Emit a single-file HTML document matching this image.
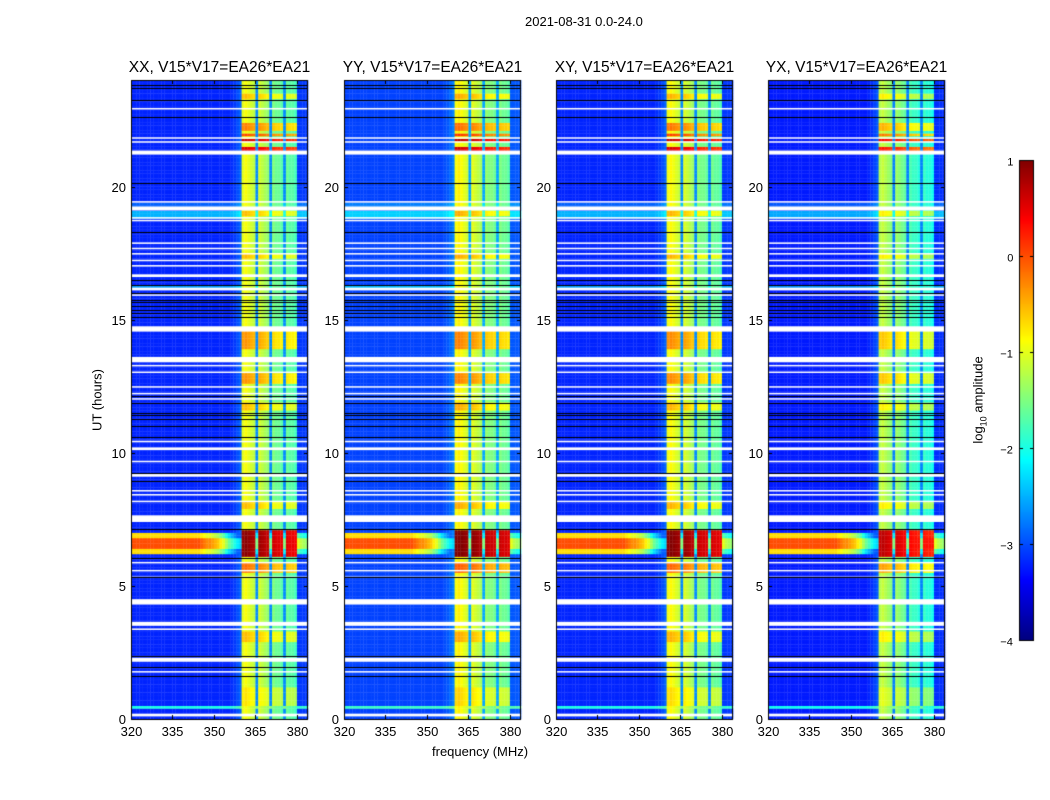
<!DOCTYPE html>
<html><head><meta charset="utf-8">
<style>
body{margin:0;background:#fff;}
#wrap{position:relative;width:1050px;height:800px;overflow:hidden;font-family:"Liberation Sans",sans-serif;color:#000;}
.t{position:absolute;white-space:nowrap;font-size:13px;line-height:13px;}
.pt{position:absolute;white-space:nowrap;font-size:15.5px;line-height:16px;transform:translateX(-50%);}
canvas{position:absolute;left:0;top:0;}
</style></head>
<body>
<div id="wrap">
<canvas id="cv" width="1050" height="800"></canvas>
<div class="t" style="left:525px;top:15px;">2021-08-31 0.0-24.0</div>
<div id="labels"></div>
<div class="t" style="left:97px;top:400px;transform:translate(-50%,-50%) rotate(-90deg);">UT (hours)</div>
<div class="t" style="left:432px;top:745px;">frequency (MHz)</div>
<div class="t" style="left:981px;top:400px;transform:translate(-50%,-50%) rotate(-90deg);">log<sub style="font-size:9px">10</sub> amplitude</div>
</div>
<script>
// ---- data ----
const panelTitles = ["XX, V15*V17=EA26*EA21","YY, V15*V17=EA26*EA21","XY, V15*V17=EA26*EA21","YX, V15*V17=EA26*EA21"];
const xTicks = [320,335,350,365,380];
const yTicks = [0,5,10,15,20];
const cbTicks = [1,0,-1,-2,-3,-4];
// per-MHz channel spectrum 320..383 (log10 amplitude)
const chanLevel = [
-3.2,-3.2,-3.2,-3.2,-3.2,-3.2,-3.2,-3.2,-3.2,-3.2,
-3.2,-3.2,-3.2,-3.2,-3.2,-3.2,-3.2,-3.2,-3.2,-3.2,
-3.2,-3.2,-3.2,-3.2,-3.2,-3.2,-3.2,-3.2,-3.2,-3.2,
-3.2,-3.2,-3.2,-3.2,-3.2,-3.2,-3.15,-3.1,-3.0,-2.9,
-1.0,-0.9,-1.0,-1.1,-1.2,-2.7,-1.1,-1.2,-1.3,-1.4,
-2.7,-1.5,-1.6,-1.6,-1.7,-2.7,-1.6,-1.7,-1.7,-1.8,
-3.1,-3.1,-3.1,-3.1];
// broadband RFI profile (320..383), used during broadband events
const bbProfile = [
0.0,0.0,0.0,0.0,0.0,0.0,0.0,0.0,0.0,0.0,
0.0,0.0,0.0,0.0,0.0,0.0,0.0,0.0,0.0,0.0,
0.0,0.0,0.0,0.0,0.0,-0.1,-0.2,-0.3,-0.3,-0.4,
-0.5,-0.6,-0.8,-1.0,-1.3,-1.6,-1.8,-2.0,-2.2,-2.3,
0.0,0.0,0.0,0.0,0.0,-1.5,0.0,0.0,0.0,0.0,
-1.5,0.0,0.0,0.0,0.0,-1.5,0.0,0.0,0.0,0.0,
-1.0,-1.2,-1.3,-1.4];
const bandBursts = [[0.5,1.2,-0.8],[2.9,3.3,-0.6],[5.5,5.9,-0.2],[6.1,7.1,0.9],[7.9,8.2,-0.6],[11.6,11.9,-0.6],[12.6,13.0,-0.4],[13.9,14.6,-0.4],[17.3,17.5,-0.6],[18.9,19.1,-0.6],[21.3,21.55,0.5],[21.7,21.8,0.6],[21.9,22.0,0.0],[22.1,22.4,-0.3],[23.3,23.5,-0.6]];
const broadband = [[6.2,7.05,-0.7],[6.4,6.85,0.0]];
const bgBoost = [[18.85,19.1,0.7],[19.25,19.4,0.3],[16.2,16.35,0.6],[0.45,0.55,1.2]];
const panelBandOffset = [0,0.1,0.05,-0.25];
const panelBgOffset = [0,0.15,0,-0.05];
const gaps = [[0.1,0.2],[1.75,1.8],[2.15,2.3],[3.35,3.4],[3.5,3.65],[4.3,4.5],[5.3,5.35],[5.55,5.6],[5.85,5.9],[7.4,7.65],[8.15,8.2],[8.4,8.45],[8.55,8.6],[9.1,9.2],[9.65,9.7],[10.1,10.2],[10.4,10.45],[12.0,12.05],[12.2,12.25],[12.45,12.5],[13.0,13.05],[13.25,13.3],[13.4,13.6],[14.55,14.75],[15.9,15.95],[16.1,16.2],[16.6,16.7],[17.0,17.05],[17.2,17.25],[17.45,17.5],[17.65,17.7],[17.85,17.9],[18.7,18.75],[18.8,18.85],[19.1,19.25],[19.4,19.45],[21.2,21.35],[21.65,21.7],[21.8,21.85],[22.9,22.95]];
const flags = [1.6,1.95,2.35,5.35,6.05,7.15,8.95,9.25,10.6,11.0,11.25,11.4,11.5,11.85,12.15,15.1,15.25,15.35,15.5,15.65,15.75,16.0,16.3,16.5,18.3,20.15,22.6,23.25,23.7,23.8];

// ---- layout ----
const lefts=[131,344,556,768], W=177, TOP=80, BOT=719;
const F0=320,F1=384,H0=0,H1=24,VMIN=-4,VMAX=1;
const xs=(i,f)=>lefts[i]+(f-F0)/(F1-F0)*W;
const ys=h=>BOT-(h-H0)/(H1-H0)*(BOT-TOP);
function cl(v){return Math.max(0,Math.min(1,v));}
function jet(v){const x=cl((v-VMIN)/(VMAX-VMIN));
 return `rgb(${Math.round(255*cl(1.5-Math.abs(4*x-3)))},${Math.round(255*cl(1.5-Math.abs(4*x-2)))},${Math.round(255*cl(1.5-Math.abs(4*x-1)))})`;}
function inside(list,h){return list.filter(e=>h>=e[0]&&h<e[1]);}

const ctx=document.getElementById('cv').getContext('2d');
const labels=document.getElementById('labels');
function label(txt,x,y,name,style){const d=document.createElement('div');d.className='t';d.textContent=txt;
 d.style.left=x+'px';d.style.top=y+'px';if(style)d.style.transform=style;
 
 
 labels.appendChild(d);}

const dh=0.1;
for(let p=0;p<4;p++){
 for(let r=0;r<240;r++){
  const h=r*dh+dh/2;
  const bb=inside(bgBoost,h).reduce((a,e)=>a+e[2],0);
  const bursts=inside(bandBursts,h);
  const bbs=inside(broadband,h);
  for(let c=0;c<chanLevel.length;c++){
   const base=chanLevel[c];
   const isBand=base>-2;
   let v=isBand?base+panelBandOffset[p]:base+panelBgOffset[p]+bb;
   if(isBand) for(const e of bursts) v=Math.max(v,e[2]+(base+1.0)*0.6+panelBandOffset[p]);
   for(const e of bbs) v=Math.max(v,bbProfile[c]+e[2]+(isBand?0.3:0));
   ctx.fillStyle=jet(v);
   const x0=xs(p,F0+c),x1=xs(p,F0+c+1),y0=ys(r*dh+dh),y1=ys(r*dh);
   ctx.fillRect(x0,y0,x1-x0+0.3,y1-y0+0.3);
  }
 }
 ctx.fillStyle='#fff';
 for(const g of gaps){const y0=ys(g[1]),y1=ys(g[0]);ctx.fillRect(lefts[p],y0,W,Math.max(1.5,y1-y0));}
 ctx.fillStyle='#000';
 for(const f of flags){ctx.fillRect(lefts[p],Math.round(ys(f)),W,1);}
 ctx.strokeStyle='#000';ctx.lineWidth=1;
 ctx.strokeRect(lefts[p]+0.5,TOP+0.5,W-1,BOT-TOP);
 ctx.beginPath();
 for(const t of xTicks){const x=Math.round(xs(p,t))+0.5;ctx.moveTo(x,BOT);ctx.lineTo(x,BOT-4);ctx.moveTo(x,TOP);ctx.lineTo(x,TOP+4);
  label(String(t),x,725,'x-tick-label','translateX(-50%)');}
 for(const t of yTicks){const y=Math.round(ys(t))+0.5;ctx.moveTo(lefts[p],y);ctx.lineTo(lefts[p]+4,y);ctx.moveTo(lefts[p]+W,y);ctx.lineTo(lefts[p]+W-4,y);
  label(String(t),lefts[p]-5,y-7,'y-tick-label','translateX(-100%)');}
 ctx.stroke();
 const d=document.createElement('div');d.className='pt';d.textContent=panelTitles[p];
 d.style.left=(lefts[p]+W/2)+'px';d.style.top='60px';
 
 
 labels.appendChild(d);
}
// colorbar
const CBX=1019,CBW=15,CBT=160,CBB=640;
for(let y=CBT;y<CBB;y++){ctx.fillStyle=jet(VMAX-(y-CBT+0.5)/(CBB-CBT)*(VMAX-VMIN));ctx.fillRect(CBX,y,CBW,1);}
ctx.strokeStyle='#000';ctx.strokeRect(CBX+0.5,CBT+0.5,CBW-1,CBB-CBT);
ctx.beginPath();
for(const t of cbTicks){const y=Math.round(CBT+(VMAX-t)/(VMAX-VMIN)*(CBB-CBT))+0.5;
 ctx.moveTo(CBX,y);ctx.lineTo(CBX+4,y);ctx.moveTo(CBX+CBW,y);ctx.lineTo(CBX+CBW-4,y);
 label(t<0?'\u2212'+(-t):String(t),CBX-5,y-6,'colorbar-tick-label','translateX(-100%) scale(0.85)');}
ctx.stroke();
</script>
</body></html>
